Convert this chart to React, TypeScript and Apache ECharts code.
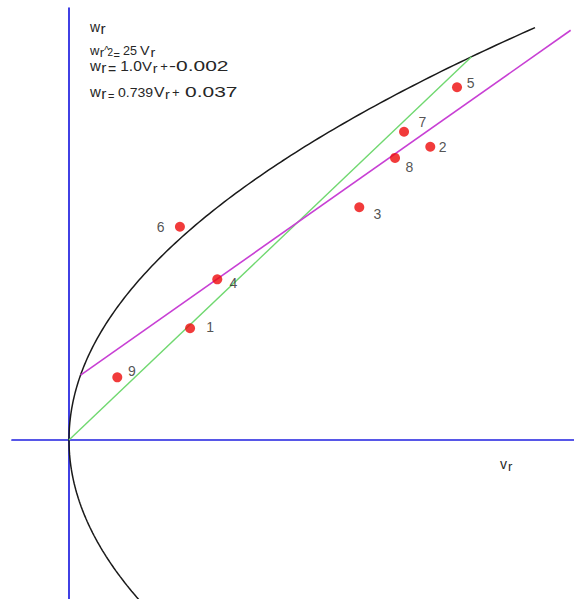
import React, { useEffect, useRef } from "react";
import * as echarts from "echarts";

// Observations (v_r, w_r) and their point numbers
const pointIds = ["1", "2", "3", "4", "5", "6", "7", "8", "9"];
const vValues = [7.52, 22.44, 18.03, 9.21, 24.1, 6.89, 20.81, 20.25, 3.0];
const wValues = [7.29, 19.13, 15.18, 10.48, 23.01, 13.91, 20.11, 18.4, 4.09];

// Curve w^2 = 25 v
const parabolaCoef = 25;
const parabolaWRange = [-11, 26.9];

// Line w = 1.0 v - 0.002
const greenSlope = 1.0;
const greenIntercept = -0.002;
const greenVRange = [0, 25];

// Regression line through the points
const magentaSlope = 0.739;
const magentaIntercept = 3.7;
const magentaVRange = [0.72, 31.16];

// Axis extents
const xMin = -3.54;
const xMax = 31.366;
const yMin = -10.372;
const yMax = 28.18;

// Where each point number sits relative to its dot
const labelOffsets: [number, number][] = [
  [20, -1.6],
  [12.4, 0],
  [18, 6.7],
  [16, 4],
  [13.7, -4.6],
  [-19.3, 0],
  [18.3, -9.4],
  [14.3, 8.7],
  [14.7, -6.6],
];

const FONT = "'Liberation Sans', Arial, Helvetica, sans-serif";
const TEXT_COLOR = "#262626";

// Equation block pieces: text, left x, baseline y, font size, horizontal stretch
type Piece = [string, number, number, number, number];
const equationPieces: Piece[] = [
  ["w", 90, 32, 14, 1],
  ["r", 100.5, 34, 14, 1.1],

  ["w", 90, 55.5, 13, 1],
  ["r", 99.8, 57.5, 13, 1],
  ["^", 104.2, 54, 10, 1],
  ["2", 107.5, 55.5, 10, 1],
  ["=", 113.5, 59, 11, 1],
  ["25", 123, 55, 12, 1.05],
  ["V", 140, 55.5, 13, 1.1],
  ["r", 150.5, 57.5, 13, 1.1],

  ["w", 90, 71, 15, 1],
  ["r", 101.2, 73, 14, 1.1],
  ["=", 108, 73.5, 14, 1],
  ["1.0", 120.2, 71, 15.5, 1],
  ["V", 142, 71, 13, 1.15],
  ["r", 152.8, 73, 13, 1.1],
  ["+", 160.2, 71, 13, 1],
  ["-0.002", 169, 71, 15, 1.4],

  ["w", 90, 97, 15, 1],
  ["r", 101.2, 99, 14, 1.1],
  ["=", 108, 100, 11, 1],
  ["0.739", 118, 97, 13, 1.08],
  ["V", 154, 97, 15, 1.05],
  ["r", 165, 99, 13, 1.1],
  ["+", 172, 97, 13, 1],
  ["0.037", 185, 97, 15, 1.4],

  ["v", 500, 468.5, 14, 1],
  ["r", 508, 471.5, 13, 1],
];

function parabolaPoints(): [number, number][] {
  const pts: [number, number][] = [];
  const steps = 200;
  for (let i = 0; i <= steps; i++) {
    const w = parabolaWRange[0] + ((parabolaWRange[1] - parabolaWRange[0]) * i) / steps;
    pts.push([(w * w) / parabolaCoef, w]);
  }
  return pts;
}

function linePoints(slope: number, intercept: number, range: number[]): [number, number][] {
  return range.map((v) => [v, slope * v + intercept] as [number, number]);
}

export default function App() {
  const ref = useRef<HTMLDivElement>(null);

  useEffect(() => {
    document.body.style.margin = "0";
    if (!ref.current) return;
    const chart = echarts.init(ref.current, undefined, { renderer: "svg" });

    const axisCommon = {
      type: "value" as const,
      axisLine: { show: true, onZero: true, lineStyle: { color: "#1f1fe0", width: 1.7 } },
      axisTick: { show: false },
      axisLabel: { show: false },
      splitLine: { show: false },
    };

    const graphicTexts = equationPieces.map(([t, x, b, s, sx]) => ({
      type: "text",
      x,
      y: b - 0.35 * s,
      scaleX: sx,
      silent: true,
      style: {
        text: t,
        fontSize: s,
        fontFamily: FONT,
        fill: TEXT_COLOR,
        align: "left",
        verticalAlign: "middle",
      },
    }));

    chart.setOption({
      animation: false,
      backgroundColor: "#ffffff",
      grid: { left: 12, top: 8, right: 0, bottom: 0, containLabel: false },
      xAxis: { ...axisCommon, min: xMin, max: xMax },
      yAxis: { ...axisCommon, min: yMin, max: yMax },
      graphic: graphicTexts,
      series: [
        {
          type: "line",
          data: parabolaPoints(),
          showSymbol: false,
          smooth: false,
          lineStyle: { color: "#1a1a1a", width: 1.5 },
          z: 3,
        },
        {
          type: "line",
          data: linePoints(greenSlope, greenIntercept, greenVRange),
          showSymbol: false,
          lineStyle: { color: "#70d870", width: 1.4 },
          z: 3,
        },
        {
          type: "line",
          data: linePoints(magentaSlope, magentaIntercept, magentaVRange),
          showSymbol: false,
          lineStyle: { color: "#c840d4", width: 1.6 },
          z: 3,
        },
        {
          type: "scatter",
          symbol: "circle",
          symbolSize: 10,
          itemStyle: { color: "#ee0a0a" },
          z: 4,
          data: vValues.map((v, i) => ({
            value: [v, wValues[i]],
            name: pointIds[i],
            label: {
              show: true,
              position: "inside",
              offset: labelOffsets[i],
              formatter: pointIds[i],
              fontSize: 14,
              fontFamily: FONT,
              color: TEXT_COLOR,
            },
          })),
        },
      ],
    });

    return () => chart.dispose();
  }, []);

  return (
    <div
      ref={ref}
      style={{ position: "fixed", left: 0, top: 0, width: 574, height: 599 }}
    />
  );
}
